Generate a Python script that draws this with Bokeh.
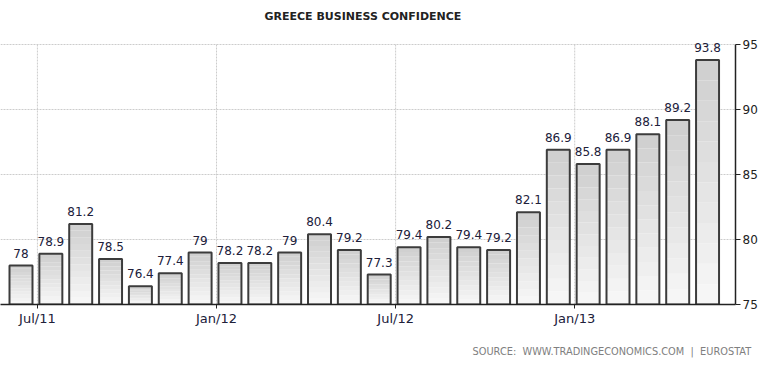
from bokeh.plotting import figure
from bokeh.models import Range1d, FixedTicker, ColumnDataSource, Title
from bokeh.core.properties import value
from bokeh.embed import file_html
from bokeh.resources import INLINE

# ---- data ----
months = ["Jun/11", "Jul/11", "Aug/11", "Sep/11", "Oct/11", "Nov/11", "Dec/11",
          "Jan/12", "Feb/12", "Mar/12", "Apr/12", "May/12", "Jun/12", "Jul/12",
          "Aug/12", "Sep/12", "Oct/12", "Nov/12", "Dec/12", "Jan/13", "Feb/13",
          "Mar/13", "Apr/13", "May/13"]
values = [78, 78.9, 81.2, 78.5, 76.4, 77.4, 79, 78.2, 78.2, 79, 80.4, 79.2,
          77.3, 79.4, 80.2, 79.4, 79.2, 82.1, 86.9, 85.8, 86.9, 88.1, 89.2, 93.8]
tick_months = ["Jul/11", "Jan/12", "Jul/12", "Jan/13"]
y_ticks = [75, 80, 85, 90, 95]
y_min, y_max = 75, 95

FONT = "DejaVu Sans"
PX = 29.85          # pixels per month
PY = 13.0           # pixels per index point
FRAME_W = 735
x_start = (0 - 20.5) / PX
x_end = x_start + FRAME_W / PX
y_top = y_max + 21 / PY     # headroom so the top bar label is not clipped

idx = list(range(len(values)))
bar_w = 0.77

p = figure(width=760, height=372, output_backend="svg", toolbar_location=None,
           x_range=Range1d(x_start, x_end), y_range=Range1d(y_min, y_top),
           y_axis_location="right", min_border_left=0, min_border_right=0,
           min_border_top=23, min_border_bottom=68)
p.outline_line_color = None
p.background_fill_color = "white"
p.border_fill_color = "white"

p.title.text = "GREECE BUSINESS CONFIDENCE"
p.title.align = "left"
p.title.offset = 264
p.title.standoff = 2
p.title.text_font = FONT
p.title.text_font_size = "11px"
p.title.text_font_style = "bold"
p.title.text_color = "#222222"

GRID_COLOR = "#cccccc"
GRID_DASH = "2 1"

# horizontal grid
g = p.ygrid[0]
g.grid_line_color = GRID_COLOR
g.grid_line_dash = GRID_DASH
g.grid_line_width = 1

# vertical grid lines limited to the 75-95 band
tick_pos = [months.index(m) - 0.45 for m in tick_months]
p.xgrid[0].grid_line_color = None
p.segment(x0=tick_pos, x1=tick_pos, y0=[y_min] * len(tick_pos),
          y1=[y_max] * len(tick_pos), line_color=GRID_COLOR,
          line_dash=GRID_DASH, line_width=1)

# gradient-like bar fill via stacked bands
N = 12
top_c = (206, 206, 206)
bot_c = (248, 248, 248)
bl, br, bb, bt, bc = [], [], [], [], []
for i, v in zip(idx, values):
    for k in range(N):
        b = y_min + (v - y_min) * k / N
        t = y_min + (v - y_min) * (k + 1) / N
        f = (k + 0.5) / N
        c = tuple(int(round(bot_c[j] + (top_c[j] - bot_c[j]) * f)) for j in range(3))
        bl.append(i - bar_w / 2); br.append(i + bar_w / 2)
        bb.append(b); bt.append(t)
        bc.append("#%02x%02x%02x" % c)
p.quad(left=bl, right=br, bottom=bb, top=bt, fill_color=bc, line_color=None)

src = ColumnDataSource(dict(x=idx, top=values,
                            lab=[f"{v:g}" for v in values]))
p.vbar(x="x", top="top", bottom=y_min, width=bar_w, source=src,
       fill_color=None, line_color="#3c3c3c", line_width=2)

p.text(x="x", y="top", text="lab", source=src, text_align="center",
       text_baseline="bottom", y_offset=-8, text_font=value(FONT),
       text_font_size="12px", text_color="#20203a")

# x axis
xa = p.xaxis[0]
xa.ticker = FixedTicker(ticks=tick_pos)
xa.major_label_overrides = {tp: m for tp, m in zip(tick_pos, tick_months)}
xa.axis_line_color = "#222222"
xa.axis_line_width = 1.5
xa.major_tick_line_color = "#222222"
xa.major_tick_out = 4
xa.major_tick_in = 0
xa.minor_tick_line_color = None
xa.major_label_standoff = 2
xa.major_label_text_font = FONT
xa.major_label_text_font_size = "13px"
xa.major_label_text_color = "#20203a"

# y axis (right)
ya = p.yaxis[0]
ya.ticker = FixedTicker(ticks=y_ticks)
ya.bounds = (y_min, y_max)
ya.axis_line_color = "#222222"
ya.axis_line_width = 1.5
ya.major_tick_line_color = "#222222"
ya.major_tick_out = 5
ya.major_tick_in = 0
ya.minor_tick_line_color = None
ya.major_label_standoff = 2
ya.major_label_text_font = FONT
ya.major_label_text_font_size = "12px"
ya.major_label_text_color = "#222222"

nb = "\u00a0"
source = Title(text=f"SOURCE:{nb} WWW.TRADINGECONOMICS.COM{nb} |{nb} EUROSTAT",
               align="left", offset=472, standoff=30, text_font=FONT,
               text_font_size="9.8px", text_font_style="normal",
               text_color="#808080")
p.add_layout(source, "below")

open("out.html", "w").write(file_html(p, INLINE))
